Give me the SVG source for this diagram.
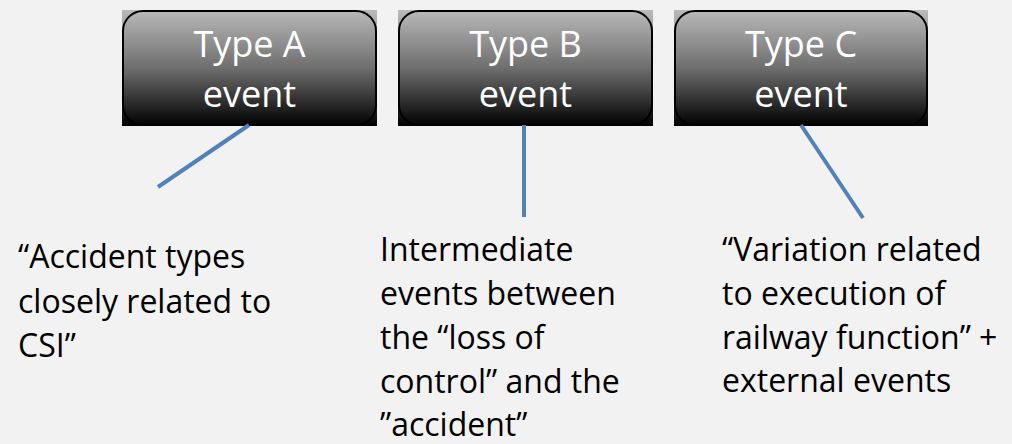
<svg xmlns="http://www.w3.org/2000/svg" width="1012" height="444" viewBox="0 0 1012 444">
<defs>
<linearGradient id="g" x1="0" y1="0" x2="0" y2="1">
<stop offset="0" stop-color="#bababa"/>
<stop offset="0.5" stop-color="#6e6e6e"/>
<stop offset="1" stop-color="#000000"/>
</linearGradient>
<style>
.bg{fill:url(#g);}
.bd{fill:none;stroke:#000;stroke-width:2;}
.bt{font-family:"Open Sans","Liberation Sans",sans-serif;font-size:36px;fill:#fff;text-anchor:middle;}
.lt{font-family:"Open Sans","Liberation Sans",sans-serif;font-size:32px;fill:#000;}
.cn{stroke:#4f81bd;stroke-width:4;fill:none;}
</style>
</defs>
<rect width="1012" height="444" fill="#f2f2f2"/>
<g id="typeA">
<rect class="bg" x="122" y="10" width="255" height="116"/>
<rect class="bd" x="123" y="11" width="253" height="114" rx="20"/>
<text class="bt" x="249.5" y="57">Type A</text>
<text class="bt" x="249.5" y="107">event</text>
</g>
<g id="typeB">
<rect class="bg" x="398" y="10" width="255" height="116"/>
<rect class="bd" x="399" y="11" width="253" height="114" rx="20"/>
<text class="bt" x="525.5" y="57">Type B</text>
<text class="bt" x="525.5" y="107">event</text>
</g>
<g id="typeC">
<rect class="bg" x="674" y="10" width="254" height="116"/>
<rect class="bd" x="675" y="11" width="252" height="114" rx="20"/>
<text class="bt" x="801" y="57">Type C</text>
<text class="bt" x="801" y="107">event</text>
</g>
<g id="connectors">
<line class="cn" x1="249" y1="125" x2="158" y2="187"/>
<line class="cn" x1="524" y1="125" x2="524" y2="217"/>
<line class="cn" x1="801" y1="125" x2="863" y2="218"/>
</g>
<g id="labelA">
<text class="lt" x="18" y="268">“Accident types</text>
<text class="lt" x="18" y="313">closely related to</text>
<text class="lt" x="18" y="357">CSI”</text>
</g>
<g id="labelB">
<text class="lt" x="380" y="261">Intermediate</text>
<text class="lt" x="380" y="305">events between</text>
<text class="lt" x="380" y="349">the “loss of</text>
<text class="lt" x="380" y="393">control” and the</text>
<text class="lt" x="380" y="436">”accident”</text>
</g>
<g id="labelC">
<text class="lt" x="722" y="261">“Variation related</text>
<text class="lt" x="722" y="305">to execution of</text>
<text class="lt" x="722" y="349">railway function” +</text>
<text class="lt" x="722" y="392">external events</text>
</g>
</svg>
